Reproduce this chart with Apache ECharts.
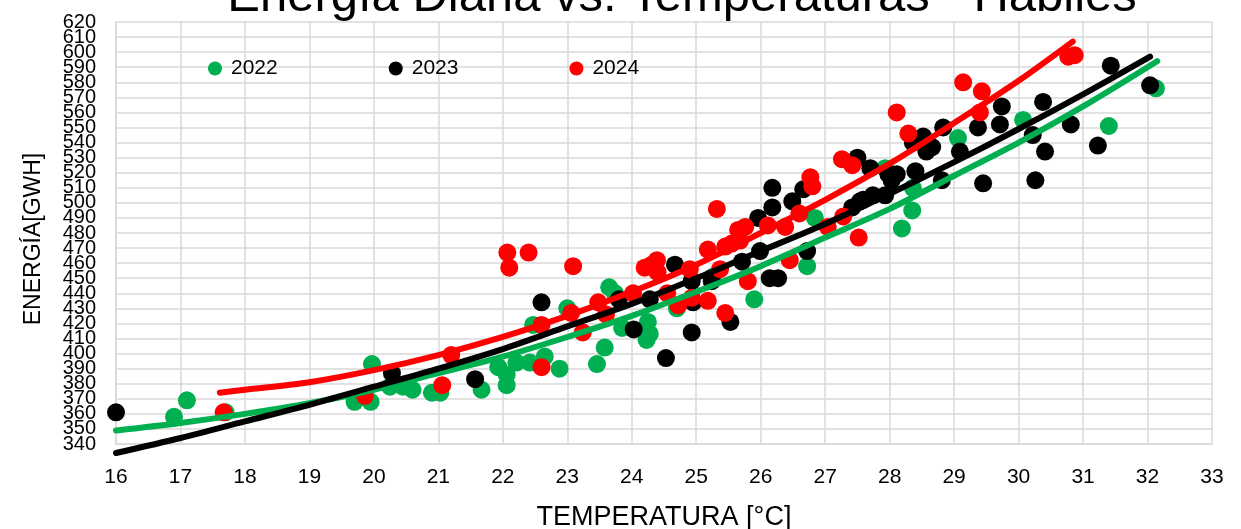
<!DOCTYPE html>
<html lang="es">
<head>
    <meta charset="UTF-8">
    <title>Energía Diaria vs. Temperaturas - Hábiles</title>
    <script src="https://cdn.jsdelivr.net/npm/echarts@6/dist/echarts.min.js"></script>
    <style type="text/css">
        html, body {
            margin: 0;
            padding: 0;
            background-color: #ffffff;
        }

        #chart {
            width: 1241px;
            height: 529px;
        }
    </style>
</head>
<body>
<div id="chart"></div>

<script>
    // [temperatura °C, energía GWh]
    const points2022 = [
        [16.9, 358], [17.1, 369], [17.7, 361], [19.7, 368], [19.95, 368], [19.97, 393],
        [20.25, 378], [20.45, 378], [20.6, 376], [20.9, 374], [21.03, 374], [21.67, 376],
        [21.93, 391], [22.06, 386], [22.06, 379], [22.21, 394], [22.42, 394], [22.47, 419],
        [22.65, 398], [22.88, 390], [23.0, 430], [23.46, 393], [23.58, 404], [23.65, 444],
        [23.74, 440], [23.85, 417], [24.23, 409], [24.25, 421], [24.28, 413], [24.7, 430],
        [25.26, 451], [25.9, 436], [26.72, 458], [26.84, 490], [27.93, 523], [28.19, 483],
        [28.35, 495], [28.36, 510], [29.06, 543], [30.07, 555], [31.4, 551], [32.13, 576]
    ];
    const points2023 = [
        [16.0, 361], [20.28, 387], [21.57, 383], [22.6, 434], [23.8, 436], [24.03, 416],
        [24.28, 436], [24.53, 397], [24.67, 459], [24.93, 448], [24.93, 414], [24.95, 434],
        [25.24, 448], [25.53, 421], [25.71, 461], [25.96, 490], [25.99, 468], [26.14, 450],
        [26.27, 450], [26.18, 510], [26.18, 497], [26.49, 501], [26.66, 509], [26.72, 468],
        [27.42, 497], [27.5, 530], [27.54, 501], [27.59, 502], [27.7, 523], [27.74, 505],
        [27.93, 505], [27.98, 519], [28.03, 515], [28.11, 519], [28.36, 540], [28.4, 521],
        [28.52, 544], [28.57, 534], [28.66, 537], [28.81, 515], [28.83, 550], [29.09, 534],
        [29.37, 550], [29.45, 513], [29.71, 552], [29.74, 564], [30.22, 545], [30.26, 515],
        [30.38, 567], [30.41, 534], [30.81, 552], [31.23, 538], [31.43, 591], [32.04, 578]
    ];
    const points2024 = [
        [17.67, 361], [19.86, 372], [21.06, 379], [21.2, 399], [22.07, 467], [22.1, 457],
        [22.4, 467], [22.6, 419], [22.6, 391], [23.06, 427], [23.09, 458], [23.24, 414],
        [23.48, 434], [23.6, 426], [24.02, 440], [24.2, 457], [24.31, 459], [24.39, 462],
        [24.4, 454], [24.55, 440], [24.72, 432], [24.9, 456], [24.93, 437], [25.18, 469],
        [25.18, 435], [25.32, 496], [25.37, 456], [25.45, 427], [25.45, 471], [25.55, 473],
        [25.65, 482], [25.68, 475], [25.76, 484], [25.8, 448], [26.11, 485], [26.38, 484],
        [26.45, 462], [26.6, 493], [26.77, 517], [26.8, 511], [27.04, 484], [27.26, 529],
        [27.28, 491], [27.42, 525], [27.52, 477], [28.11, 560], [28.29, 546], [29.14, 580],
        [29.4, 560], [29.43, 574], [30.77, 597], [30.87, 598]
    ];

    // líneas de tendencia
    const trend2022 = [
        [16, 349], [17, 354], [18, 360], [19, 367], [20, 376], [21, 387], [22, 398], [23, 411],
        [24, 425], [25, 441], [26, 458], [27, 477], [28, 496], [29, 518], [30, 540], [31, 564],
        [32.15, 594]
    ];
    const trend2023 = [
        [16, 334], [17, 344], [18, 355], [19, 366], [20, 378], [21, 390], [22, 403], [23, 418],
        [24, 433], [25, 450], [26, 468], [27, 486], [28, 506], [29, 527], [30, 549], [31, 572],
        [32.04, 597]
    ];
    const trend2024 = [
        [17.61, 374], [18, 376], [19, 381], [20, 389], [21, 399], [22, 411], [23, 425], [24, 441],
        [25, 459], [26, 480], [27, 502], [28, 526], [29, 553], [30, 581], [30.84, 607]
    ];

    const years = ['2022', '2023', '2024'];
    const colors = ['#00B050', '#000000', '#FF0000'];
    const yMin = 340;
    const yMax = 620;

    const FONT = '"Liberation Sans", Arial, sans-serif';

    const chart = echarts.init(document.getElementById('chart'));

    const scatter = [points2022, points2023, points2024].map((pts, i) => ({
        name: years[i],
        type: 'scatter',
        data: pts,
        symbol: 'circle',
        symbolSize: 18,
        itemStyle: { color: colors[i], opacity: 1 },
        z: 2
    }));

    const trends = [trend2022, trend2023, trend2024].map((pts, i) => ({
        name: 'tend' + years[i],
        type: 'line',
        data: pts,
        smooth: 0.3,
        showSymbol: false,
        symbol: 'none',
        clip: false,
        lineStyle: { color: colors[i], width: 6, cap: 'round' },
        z: 3
    }));

    const yLabel = { fontFamily: FONT, fontSize: 20, color: '#000', margin: 20 };

    chart.setOption({
        animation: false,
        textStyle: { fontFamily: FONT },
        title: {
            text: 'Energía Diaria vs. Temperaturas - Hábiles',
            left: 677,
            top: -32,
            textAlign: 'center',
            textStyle: { fontFamily: FONT, fontSize: 49, fontWeight: 'normal', color: '#000' }
        },
        legend: {
            data: years,
            left: 203,
            top: 53,
            icon: 'path://M0,10 A10,10 0 1,0 20,10 A10,10 0 1,0 0,10 Z',
            itemWidth: 14,
            itemHeight: 17,
            itemGap: 111,
            textStyle: { fontFamily: FONT, fontSize: 21, color: '#000', padding: [0, 0, 0, 4] }
        },
        grid: { left: 116, right: 29, top: 22, bottom: 85, outerBoundsMode: 'none' },
        xAxis: {
            type: 'value',
            min: 16,
            max: 33,
            interval: 1,
            name: 'TEMPERATURA [°C]',
            nameLocation: 'middle',
            nameGap: 60,
            nameTextStyle: { fontFamily: FONT, fontSize: 27, color: '#000' },
            axisLine: { show: true, onZero: false, lineStyle: { color: '#d9d9d9', width: 1.5 } },
            axisTick: { show: false },
            axisLabel: { fontFamily: FONT, fontSize: 21, color: '#000', margin: 23 },
            splitLine: { show: true, lineStyle: { color: '#d9d9d9', width: 1.5 } }
        },
        yAxis: [
            {
                type: 'value',
                min: yMin,
                max: yMax,
                interval: 10,
                name: 'ENERGÍA[GWH]',
                nameLocation: 'middle',
                nameGap: 71,
                nameTextStyle: { fontFamily: FONT, fontSize: 23, color: '#000', padding: [0, 12, 0, 0] },
                axisLine: { show: true, lineStyle: { color: '#d9d9d9', width: 1.5 } },
                axisTick: { show: false },
                axisLabel: Object.assign({ showMinLabel: false, showMaxLabel: false }, yLabel),
                splitLine: { show: true, lineStyle: { color: '#d9d9d9', width: 1.5 } }
            },
            {
                // solo las etiquetas extremas (340 y 620), que el primer eje oculta por solape
                type: 'value',
                position: 'left',
                min: yMin,
                max: yMax,
                interval: yMax - yMin,
                axisLine: { show: false },
                axisTick: { show: false },
                splitLine: { show: false },
                axisLabel: yLabel
            }
        ],
        series: scatter.concat(trends)
    });
</script>
</body>
</html>
